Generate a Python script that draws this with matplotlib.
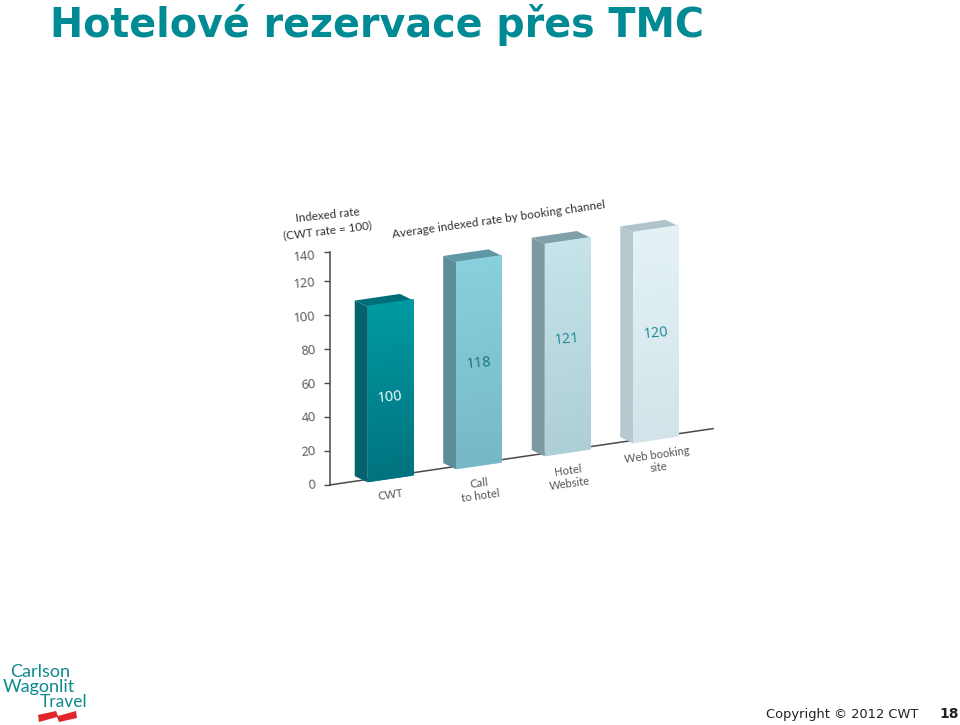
import numpy as np
import matplotlib
matplotlib.use("Agg")
import matplotlib.pyplot as plt
from matplotlib.patches import Polygon
from matplotlib.transforms import Affine2D
from matplotlib.colors import LinearSegmentedColormap

W, H = 960, 725

TITLE = "Hotelové rezervace přes TMC"
CATEGORIES = ["CWT", "Call\nto hotel", "Hotel\nWebsite", "Web booking\nsite"]
VALUES = [100, 118, 121, 120]
TICK_LABELS = [0, 20, 40, 60, 80, 100, 120, 140]
TICK_POS = [0, 19.4, 38.8, 58.1, 77.5, 96.9, 116.3, 132.7]
VALUE_LABEL_POS = [46.7, 58.7, 65.0, 61.0]
FRONT_TOP = ["#009aa2", "#88d0de", "#c6e4ea", "#e4f2f6"]
FRONT_BOTTOM = ["#00737f", "#78b8c6", "#aecfd6", "#d2e4e9"]
SIDE = ["#00636e", "#5b8e99", "#7d9aa4", "#b8c8cf"]
TOP = ["#006e79", "#5f98a4", "#81a0aa", "#b1c3ca"]
VALUE_COLORS = ["#ffffff", "#12707c", "#1b8a98", "#1b8a98"]

plt.rcParams["font.family"] = ["Open Sans", "DejaVu Sans"]
fig = plt.figure(figsize=(W / 100, H / 100), dpi=100, facecolor="white")


def ftext(x, y, s, **kw):
    return fig.text(x / W, 1 - y / H, s, **kw)


# Axes: left spine at the value axis, one category = 88.5 px, one unit = 1.755 px
PX_X, PX_Y = 88.5, 1.755
X0 = 390.3
ax_l, ax_r, ax_b, ax_t = 329.5, 713.0, 485.0, 252.0
ax = fig.add_axes([ax_l / W, 1 - ax_b / H, (ax_r - ax_l) / W, (ax_b - ax_t) / H])
ax.set_xlim((ax_l - X0) / PX_X, (ax_r - X0) / PX_X)
ax.set_ylim(0, (ax_b - ax_t) / PX_Y)
ax.patch.set_alpha(0)
for s in ("top", "right", "bottom"):
    ax.spines[s].set_visible(False)
ax.spines["left"].set_color("#4a4a4a")
ax.spines["left"].set_linewidth(1.1)
ax.set_xticks([])
ax.set_yticks(TICK_POS)
ax.set_yticklabels(TICK_LABELS, rotation=5, rotation_mode="anchor", ha="right", va="center")
ax.tick_params(axis="y", length=4.5, width=1.0, color="#4a4a4a", pad=5.5,
               labelsize=9.3, labelcolor="#555555")
for lab, dy in zip(ax.get_yticklabels(), [0, -0.5, -0.5, -1, -1.5, -2, -1.5, -3]):
    lab.set_transform(lab.get_transform() + Affine2D().translate(0, dy))

# Oblique projection applied on top of the data axes
x_sp = ax.get_xlim()[0]
k = 0.147 * PX_X / PX_Y
skew = Affine2D(np.array([[1, 0, 0], [k, 1, -k * x_sp], [0, 0, 1]], dtype=float))
base_tf = skew + ax.transData
front_tf = skew + Affine2D().translate(0, -1.7) + ax.transData

# Baseline
ax.plot(ax.get_xlim(), [0, 0], color="#4a4a4a", lw=1.1, transform=base_tf,
        clip_on=False, zorder=1)

width = 0.51
depth_x, depth_y = -13 / PX_X, 4.68
x = np.arange(len(VALUES))
bars = ax.bar(x, VALUES, width=width, color=FRONT_BOTTOM, transform=front_tf,
              clip_on=False, zorder=3)
for i, (b, v) in enumerate(zip(bars, VALUES)):
    x0, x1 = b.get_x(), b.get_x() + b.get_width()
    side = [(x0, 0), (x0, v), (x0 + depth_x, v + depth_y), (x0 + depth_x, depth_y)]
    top = [(x0, v), (x1, v), (x1 + depth_x, v + depth_y), (x0 + depth_x, v + depth_y)]
    ax.add_patch(Polygon(side, closed=True, fc=SIDE[i], ec="none", transform=front_tf,
                         clip_on=False, zorder=3))
    ax.add_patch(Polygon(top, closed=True, fc=TOP[i], ec="none", transform=front_tf,
                         clip_on=False, zorder=3))
    cmap = LinearSegmentedColormap.from_list("f", [FRONT_TOP[i], FRONT_BOTTOM[i]])
    im = ax.imshow(np.linspace(0, 1, 64).reshape(-1, 1), cmap=cmap, aspect="auto",
                   extent=(x0, x1, 0, v), origin="upper", transform=front_tf,
                   zorder=4, clip_on=False, interpolation="bilinear")
    ax.text(x[i], VALUE_LABEL_POS[i], str(v), transform=front_tf, color=VALUE_COLORS[i],
            fontsize=10.5, ha="center", va="center", rotation=5, zorder=6)

ax.set_xlim((ax_l - X0) / PX_X, (ax_r - X0) / PX_X)
ax.set_ylim(0, (ax_b - ax_t) / PX_Y)

# Chart texts
ink = "#333333"
ftext(328, 215, "Indexed rate", fontsize=8.4, color=ink, family="Lato", rotation=6,
      ha="center", va="center")
ftext(327.5, 230, "(CWT rate = 100)", fontsize=8.4, color=ink, family="Lato", rotation=7,
      ha="center", va="center")
ftext(499, 220, "Average indexed rate by booking channel", fontsize=8.45, color=ink, family="Lato",
      rotation=8, ha="center", va="center", rotation_mode="anchor")
CAT_XY = [(391, 495), (480, 490), (569, 477), (658, 461)]
for (cx, cy), c in zip(CAT_XY, CATEGORIES):
    ftext(cx, cy, c, fontsize=8.0, color="#555555", family="Lato", rotation=8, ha="center",
          va="center", rotation_mode="anchor", linespacing=1.2)

# Slide furniture
ftext(50, 37, TITLE, fontsize=28.5, fontweight="bold", color="#008a93", family="DejaVu Sans",
      ha="left", va="baseline")
ftext(766, 718, "Copyright © 2012 CWT", fontsize=9.4, color="#222222", family="DejaVu Sans",
      ha="left", va="baseline")
ftext(959, 718, "18", fontsize=10, fontweight="bold", color="#222222", family="DejaVu Sans",
      ha="right", va="baseline")

# Logo
teal = "#0a8a8c"
ftext(10, 677, "Carlson", fontsize=13, color=teal, family="Lato", ha="left", va="baseline")
ftext(3, 692, "Wagonlit", fontsize=13, color=teal, family="Lato", ha="left", va="baseline")
ftext(40, 707, "Travel", fontsize=12.5, color=teal, family="Lato", ha="left", va="baseline")
wave = [(38, 715), (56, 711), (58, 716), (76, 711), (77, 718), (59, 722), (57, 717), (39, 722)]
fig.add_artist(Polygon([(a / W, 1 - b / H) for a, b in wave], closed=True, fc="#e0252b",
                       ec="none", transform=fig.transFigure))

fig.savefig("out.png", dpi=100)
